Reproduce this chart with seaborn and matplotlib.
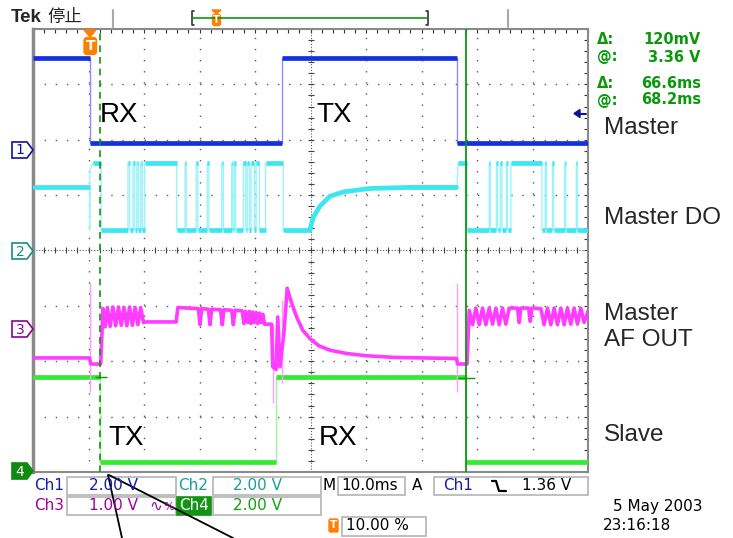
import numpy as np
import pandas as pd
import matplotlib
matplotlib.use("Agg")
import matplotlib.pyplot as plt
import seaborn as sns
from matplotlib.patches import Polygon, Rectangle, FancyBboxPatch

sns.set_style("white")
plt.rcParams['font.family'] = ['DejaVu Sans', 'Noto Sans CJK SC']

# ---------------- data (time in ms, level in divisions) ----------------
ch1_edges = [10.3, 44.9, 76.4]
ch1_levels = [7.47, 5.94, 7.47, 5.94]

ch4_edges = [12.1, 43.8, 78.0]
ch4_levels = [1.71, 0.18, 1.71, 0.18]

ch2_mid, ch2_high, ch2_low = 5.14, 5.58, 4.37
ch2_highs_a = [(17.1, 17.4), (18.0, 18.3), (18.7, 19.0), (19.4, 19.7), (20.1, 25.9),
               (27.4, 27.6), (29.4, 29.7), (31.4, 31.7), (34.0, 34.3), (35.8, 36.0),
               (36.3, 36.5), (37.9, 38.3), (38.6, 39.0), (39.3, 39.9), (40.2, 40.8),
               (41.9, 45.1)]
ch2_highs_b = [(82.2, 82.4), (83.5, 83.7), (84.2, 84.5), (85.3, 85.5), (86.1, 91.7),
               (92.3, 92.5), (93.6, 93.8), (95.8, 96.0), (97.9, 98.1)]
ch2_curve_t = [49.9, 50.5, 51.7, 53.5, 56.0, 60.7, 68.0, 76.3]
ch2_curve_v = [4.37, 4.60, 4.80, 4.98, 5.06, 5.12, 5.14, 5.14]

ch3_t = [0, 10.2, 10.4, 12.2, 12.6, 13.0, 13.4, 13.9, 14.4, 14.9, 15.4, 15.9, 16.4,
         16.9, 17.4, 17.9, 18.4, 18.9, 19.4, 19.9, 20.3, 25.8, 26.1, 29.8, 30.1, 30.4,
         31.6, 31.9, 32.2, 33.8, 34.1, 34.4, 35.8, 36.1, 36.4, 37.7, 38.0, 38.3, 38.7,
         39.0, 39.3, 39.6, 39.9, 40.2, 40.5, 40.8, 41.1, 41.4, 41.7, 43.0, 43.2, 43.8,
         44.1, 44.5, 45.2, 45.8, 46.5, 47.5, 48.6, 50.0, 51.5, 53.5, 56.5, 60.0, 65.0,
         70.0, 76.3, 76.5, 78.2, 78.6, 79.2, 79.8, 80.4, 81.0, 81.6, 82.2, 82.8, 83.4,
         84.0, 84.6, 85.2, 85.8, 87.3, 87.6, 87.9, 89.3, 89.6, 89.9, 91.5, 92.1, 92.7,
         93.3, 93.9, 94.5, 95.1, 95.7, 96.3, 96.9, 97.5, 98.1, 98.7, 99.3, 100.0]
ch3_v = [2.06, 2.06, 1.95, 1.95, 2.95, 2.62, 2.97, 2.63, 2.98, 2.64, 2.98, 2.65, 2.97,
         2.64, 2.98, 2.65, 2.97, 2.66, 2.97, 2.70, 2.71, 2.71, 2.97, 2.95, 2.66, 2.95,
         2.94, 2.66, 2.94, 2.93, 2.66, 2.93, 2.92, 2.66, 2.92, 2.91, 2.68, 2.90, 2.70,
         2.90, 2.68, 2.89, 2.70, 2.88, 2.68, 2.87, 2.70, 2.85, 2.67, 2.67, 1.90, 1.85,
         2.80, 1.90, 2.50, 3.32, 3.08, 2.80, 2.56, 2.40, 2.28, 2.20, 2.14, 2.10, 2.07,
         2.06, 2.05, 1.95, 1.95, 2.92, 2.66, 2.96, 2.66, 2.96, 2.66, 2.96, 2.67, 2.96,
         2.66, 2.96, 2.67, 2.96, 2.96, 2.70, 2.96, 2.96, 2.72, 2.96, 2.95, 2.66, 2.96,
         2.66, 2.96, 2.66, 2.96, 2.66, 2.96, 2.67, 2.96, 2.67, 2.96, 2.70, 2.90]
ch3_spikes = [(10.3, 1.45, 3.41), (43.3, 1.25, 2.67), (44.9, 1.6, 3.1), (76.4, 1.45, 3.41)]

cursor_t = [12.0, 78.0]
cursor_marks = [(11.2, 13.3, 1.72), (76.6, 79.6, 1.70)]

readout_labels = ["\u0394:", "@:", "\u0394:", "@:"]
readout_values = ["120mV", "3.36 V", "66.6ms", "68.2ms"]
trace_names = ["Master", "Master DO", "Master\nAF OUT", "Slave"]

C1, C2, C3, C4 = "#1430e0", "#3ee6f2", "#ff3cff", "#34ea34"
C1L, C2L, C3L, C4L = "#8c8cff", "#9cf3fa", "#ff9cff", "#a0f2a0"
CUR = "#0c980c"

# ---------------- helpers ----------------
def step_path(edges, levels, t0=0.0, t1=100.0):
    xs, ys = [t0], [levels[0]]
    for e, a, b in zip(edges, levels[:-1], levels[1:]):
        xs += [e, e]
        ys += [a, b]
    xs.append(t1)
    ys.append(levels[-1])
    return xs, ys

def pulses_to_edges(a, b, highs, low, high):
    edges, levels = [], [low]
    for s, e in highs:
        edges += [s, e]
        levels += [high, low]
    return edges, levels

def horiz_runs(xs, ys, minlen=0.0):
    runs = []
    for i in range(len(xs) - 1):
        if ys[i] == ys[i + 1] and xs[i + 1] - xs[i] > minlen:
            runs.append((xs[i], xs[i + 1], ys[i]))
    return runs

W, H = 733, 538
fig = plt.figure(figsize=(W / 100, H / 100), dpi=100)
fig.patch.set_facecolor("white")
ax = fig.add_axes([33 / W, (H - 472) / H, 555 / W, 443 / H])
ax.set_xlim(0, 100)
ax.set_ylim(0, 8)
ax.set_facecolor("white")

# grid
for gx in range(10, 100, 10):
    if gx != 50:
        ax.axvline(gx, color="#5a5a5a", lw=1.0, ls=(0, (1, 7)), zorder=1)
for gy in range(1, 8):
    if gy != 4:
        ax.axhline(gy, color="#5a5a5a", lw=1.0, ls=(0, (1, 7)), zorder=1)
ax.axvline(50, color="#5a5a5a", lw=0.8, ls=(0, (1, 1.6)), zorder=1)
ax.axhline(4, color="#5a5a5a", lw=0.8, ls=(0, (1, 1.6)), zorder=1)
yt = np.arange(0, 8.01, 0.2)
xt = np.arange(0, 100.01, 2)
ax.plot([50] * len(yt), yt, ls="none", marker="_", ms=5, mew=0.8, color="#444", zorder=1)
ax.plot(xt, [4] * len(xt), ls="none", marker="|", ms=5, mew=0.8, color="#444", zorder=1)
ax.set_xticks(xt)
ax.set_yticks(yt)
ax.tick_params(direction="in", length=3, width=0.8, colors="#333", top=True, right=True,
               labelbottom=False, labelleft=False)
for s in ax.spines.values():
    s.set_color("#8a8a8a")
    s.set_linewidth(1.5)
ax.spines["left"].set_linewidth(2.5)

LW = 3.4

# ---- Ch4 (green) ----
x4, y4 = step_path(ch4_edges, ch4_levels)
sns.lineplot(x=x4, y=y4, sort=False, estimator=None, color=C4L, lw=1.0, ax=ax, zorder=3)
r = horiz_runs(x4, y4)
ax.hlines([q[2] for q in r], [q[0] for q in r], [q[1] for q in r], color=C4, lw=LW, zorder=3)

# ---- Ch3 (magenta) ----
for t, lo, hi in ch3_spikes:
    ax.vlines(t, lo, hi, color=C3L, lw=1.0, zorder=4)
sns.lineplot(x=ch3_t, y=ch3_v, sort=False, estimator=None, color=C3, lw=2.6, ax=ax, zorder=4)

# ---- Ch2 (cyan) ----
ea, la = pulses_to_edges(12.3, 49.9, ch2_highs_a, ch2_low, ch2_high)
eb, lb = pulses_to_edges(78.2, 100, ch2_highs_b, ch2_low, ch2_high)
xa, ya = step_path(ea, la, 12.3, ch2_curve_t[0])
xb, yb = step_path(eb, lb, 78.2, 100.0)
x2 = [0, 10.2, 10.2, 10.25, 10.8, 12.3] + xa + ch2_curve_t + [76.4, 76.6, 78.2] + xb
y2 = [ch2_mid, ch2_mid, ch2_low, 5.45, ch2_high, ch2_high] + ya + ch2_curve_v + \
     [ch2_mid, ch2_high, ch2_high] + yb
sns.lineplot(x=x2, y=y2, sort=False, estimator=None, color=C2L, lw=1.0, ax=ax, zorder=5)
r = horiz_runs(x2, y2)
ax.hlines([q[2] for q in r], [q[0] for q in r], [q[1] for q in r], color=C2, lw=LW, zorder=5)
sns.lineplot(x=ch2_curve_t, y=ch2_curve_v, sort=False, estimator=None, color=C2, lw=LW,
             ax=ax, zorder=5)

# ---- Ch1 (blue) ----
x1, y1 = step_path(ch1_edges, ch1_levels)
sns.lineplot(x=x1, y=y1, sort=False, estimator=None, color=C1L, lw=1.0, ax=ax, zorder=6)
r = horiz_runs(x1, y1)
ax.hlines([q[2] for q in r], [q[0] for q in r], [q[1] for q in r], color=C1, lw=LW, zorder=6)

# ---- cursors ----
ax.axvline(cursor_t[0], color=CUR, lw=1.2, ls=(0, (4, 3)), zorder=7)
ax.axvline(cursor_t[1], color=CUR, lw=1.3, zorder=7)
for a, b, lv in cursor_marks:
    ax.hlines(lv, a, b, color=CUR, lw=1.0, zorder=7)

ax.set_xlabel("")
ax.set_ylabel("")
if ax.get_legend():
    ax.get_legend().remove()

# in-plot labels
lab_kw = dict(fontsize=20, family="Liberation Sans", va="center", ha="left", color="black", zorder=8)
ax.text(12.0, (472 - 115) / 55.4, "RX", **lab_kw)
ax.text(51.0, (472 - 115) / 55.4, "TX", **lab_kw)
ax.text(13.5, (472 - 438) / 55.4, "TX", **lab_kw)
ax.text(51.5, (472 - 438) / 55.4, "RX", **lab_kw)

# ---------------- overlay (pixel coordinates) ----------------
ov = fig.add_axes([0, 0, 1, 1], zorder=10)
ov.set_xlim(0, W)
ov.set_ylim(H, 0)
ov.axis("off")

# top bar
ov.text(11, 17, "Tek", fontsize=13.5, fontweight="bold", family="Liberation Sans", va="center")
ov.text(47, 17, "停止", fontsize=12.5, family=["Noto Sans CJK SC"], va="center", color="#222")
ov.plot([113, 113], [10, 27], color="#a8a8a8", lw=1.5)
ov.plot([508, 508], [10, 27], color="#a8a8a8", lw=1.5)
ov.plot([194, 192, 192, 194], [11, 11, 25, 25], color="#333", lw=1.2)
ov.plot([426, 428, 428, 426], [11, 11, 25, 25], color="#333", lw=1.2)
ov.plot([193, 427], [18, 18], color=CUR, lw=1.2)
ov.add_patch(Polygon([(212, 10), (221, 10), (216.5, 14)], closed=True, color="#ff7f00"))
ov.add_patch(FancyBboxPatch((212.5, 14.5), 8, 11, boxstyle="round,pad=0,rounding_size=2",
                            color="#ff7f00"))
ov.text(216.5, 20, "T", color="white", fontsize=7, fontweight="bold", ha="center", va="center")

# trigger marker on plot
ov.add_patch(Polygon([(84, 30), (96, 30), (90, 37)], closed=True, color="#ff7f00"))
ov.add_patch(FancyBboxPatch((84, 37.5), 12.5, 17, boxstyle="round,pad=0,rounding_size=3",
                            color="#ff7f00"))
ov.text(90.2, 46.5, "T", color="white", fontsize=10, fontweight="bold", ha="center", va="center")

# trigger level arrow (right)
ov.add_patch(Polygon([(574, 113.5), (580, 109.5), (580, 117.5)], closed=True, color="#1010a0"))
ov.plot([580, 586], [113.5, 113.5], color="#1010a0", lw=1.5)

# channel markers
def chan_marker(yc, label, edge, face, tc):
    pts = [(12, yc - 8), (27, yc - 8), (33, yc), (27, yc + 8), (12, yc + 8)]
    ov.add_patch(Polygon(pts, closed=True, facecolor=face, edgecolor=edge, lw=1.2))
    ov.text(20, yc + 0.5, label, color=tc, fontsize=10, ha="center", va="center")

chan_marker(150, "1", "#1010a0", "white", "#1010a0")
chan_marker(251, "2", "#109090", "white", "#109090")
chan_marker(329, "3", "#900090", "white", "#900090")
chan_marker(471, "4", "#108a10", "#108a10", "white")

# cursor readouts
ry = [40, 57, 83, 100]
for lab, val, yy in zip(readout_labels, readout_values, ry):
    ov.text(597, yy, lab, color=CUR, fontsize=10.5, fontweight="bold", va="center")
    ov.text(701, yy, val, color=CUR, fontsize=10.5, fontweight="bold", va="center", ha="right")

# right-hand trace names
name_y = [128, 218, 327, 435]
for nm, yy in zip(trace_names, name_y):
    ov.text(604, yy, nm, fontsize=17.5, family="Liberation Sans", va="center", ha="left",
            linespacing=1.25)

# status boxes
def sbox(x0, x1, y0, y1, face="white", edge="#b4b4b4"):
    ov.add_patch(Rectangle((x0, y0), x1 - x0, y1 - y0, facecolor=face, edgecolor=edge, lw=1.2))

st = dict(fontsize=11, va="center", ha="left")
sbox(67, 176, 477, 495)
sbox(213, 321, 477, 495)
sbox(338, 405, 477, 495)
sbox(434, 588, 477, 495)
sbox(67, 176, 497, 515)
sbox(177, 211, 497, 515, face="#149414", edge="#149414")
sbox(213, 321, 497, 515)
sbox(342, 426, 517, 536)
ov.text(34, 486, "Ch1", color="#1a1aa8", **st)
ov.text(89, 486, "2.00 V", color="#1a1aa8", **st)
ov.text(178, 486, "Ch2", color="#1a9c9c", **st)
ov.text(233, 486, "2.00 V", color="#1a9c9c", **st)
ov.text(322, 486, "M", color="black", **st)
ov.text(341, 486, "10.0ms", color="black", **st)
ov.text(412, 486, "A", color="black", **st)
ov.text(443, 486, "Ch1", color="#1a1aa8", **st)
ov.plot([492, 496, 499, 506], [481, 481, 491, 491], color="black", lw=1.6)
ov.text(522, 486, "1.36 V", color="black", **st)
ov.text(34, 506, "Ch3", color="#a000a0", **st)
ov.text(89, 506, "1.00 V", color="#a000a0", **st)
ov.text(149, 506, "\u223f", color="#a000a0", fontsize=11, va="center", ha="left")
ov.text(163, 507, "%", color="#a000a0", fontsize=8, va="center", ha="left")
ov.text(179, 506, "Ch4", color="white", **st)
ov.text(233, 506, "2.00 V", color="#10a010", **st)
ov.add_patch(FancyBboxPatch((329, 519), 9, 13, boxstyle="round,pad=0,rounding_size=1.5",
                            color="#ff7f00"))
ov.text(333.5, 525.5, "T", color="white", fontsize=7.5, fontweight="bold", ha="center", va="center")
ov.text(346, 526, "10.00 %", color="black", **st)
ov.text(613, 507, "5 May 2003", color="black", **st)
ov.text(603, 526, "23:16:18", color="black", **st)

# black annotation lines
ov.plot([108, 122], [475, 538], color="black", lw=1.3)
ov.plot([109, 233], [475, 538], color="black", lw=1.3)

fig.savefig("out.png", dpi=100, facecolor="white")
